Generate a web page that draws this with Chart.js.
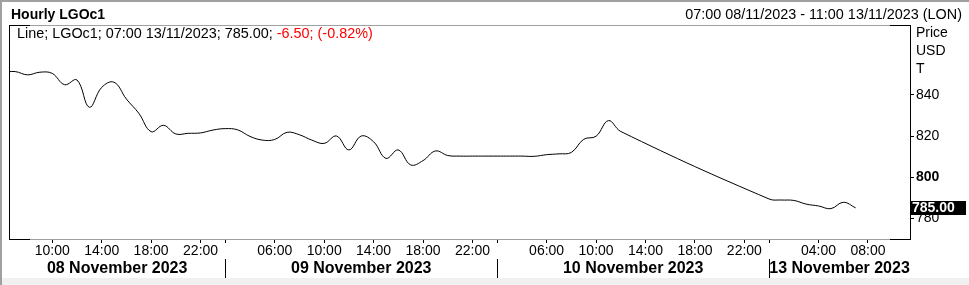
<!DOCTYPE html>
<html>
<head>
<meta charset="utf-8">
<script src="https://cdn.jsdelivr.net/npm/chart.js@4.4.0/dist/chart.umd.min.js"></script>
<style>
  body { margin: 0; background: #fff; }
  canvas { display: block; }
</style>
</head>
<body>
<canvas id="myChart" width="969" height="285"></canvas>
<script>
// trading days and the hourly slots shown for each one
var days = ['08 November 2023', '09 November 2023', '10 November 2023', '13 November 2023'];
var dayFirstHour = [6, 2, 2, 0];
var dayLastHour = [23, 23, 23, 11];
var tickHours = [[10, 14, 18, 22], [6, 10, 14, 18, 22], [6, 10, 14, 18, 22], [4, 8]];

// hourly closes (null = no data, line spans it)
var pricesNov8 = [851.0, 851.4, 849.8, 851.1, 850.5, 845.0, 847.3, 834.0, 843.7, 846.2, 838.0,
                  831.1, 822.1, 825.2, 821.0, 821.3, 821.5, 822.9];
var pricesNov9 = [823.6, 823.0, 819.8, 818.0, 818.3, 821.8, 820.6, 818.0, 816.4, 820.0, 813.2,
                  820.0, 817.2, 809.1, 813.2, 805.9, 808.0, 812.7, 810.5, 810.2, 810.2, 810.2];
var pricesNov10 = [810.2, 810.2, 810.2, 810.1, 810.9, 811.3, 812.0, 818.4, 819.9, 827.5, 822.2,
                   null, null, null, null, null, null, null, null, null, null, null];
var pricesNov13 = [789.3, 788.8, 788.6, 786.8, 785.9, 784.6, 787.7, 785.0];

var yTicks = [780, 800, 820, 840];

var title = 'Hourly LGOc1';
var rangeText = '07:00 08/11/2023 - 11:00 13/11/2023 (LON)';
var infoText = 'Line; LGOc1; 07:00 13/11/2023; ';
var changeText = '-6.50; (-0.82%)';
var axisUnits = ['Price', 'USD', 'T'];

var FONT = '"Liberation Sans", Arial, sans-serif';

// build slot index -> data
var allPrices = [pricesNov8, pricesNov9, pricesNov10, pricesNov13];
var points = [];
var dayStart = [];
var xTicks = [];
var xTickText = {};
var slot = 0;
for (var d = 0; d < days.length; d++) {
  dayStart.push(slot);
  if (d > 0) { xTicks.push(slot); xTickText[slot] = ''; }
  for (var h = dayFirstHour[d]; h <= dayLastHour[d]; h++) {
    var j = h - dayFirstHour[d];
    if (j < allPrices[d].length) points.push({x: slot, y: allPrices[d][j]});
    if (tickHours[d].indexOf(h) >= 0) {
      xTicks.push(slot);
      xTickText[slot] = (h < 10 ? '0' : '') + h + ':00';
    }
    slot++;
  }
}
var lastPrice = pricesNov13[pricesNov13.length - 1];

var overlay = {
  id: 'overlay',
  beforeDraw: function(chart) {
    var ctx = chart.ctx;
    ctx.save();
    ctx.fillStyle = '#fff';
    ctx.fillRect(0, 0, chart.width, chart.height);
    ctx.restore();
  },
  afterDraw: function(chart) {
    var ctx = chart.ctx, a = chart.chartArea, xs = chart.scales.x, ys = chart.scales.y;
    ctx.save();

    // outer border and bottom strip
    ctx.fillStyle = '#f0f0f0';
    ctx.fillRect(0, 278, chart.width, 7);
    ctx.fillStyle = '#a0a0a0';
    ctx.fillRect(0, 0, chart.width, 2);
    ctx.fillRect(0, 0, 2, chart.height);

    // plot frame: grey top/bottom, black sides and corners
    var w = a.right - a.left, h = a.bottom - a.top;
    ctx.fillRect(a.left, a.top, w, 1);
    ctx.fillRect(a.left, a.bottom, w, 1);
    ctx.fillStyle = '#000';
    ctx.fillRect(a.left, a.top, 1, h + 1);
    ctx.fillRect(a.right, a.top, 1, h + 1);
    ctx.fillRect(a.left, a.top, 21, 1);
    ctx.fillRect(a.left, a.bottom, 21, 1);
    ctx.fillRect(a.right - 20, a.top, 21, 1);
    ctx.fillRect(a.right - 20, a.bottom, 21, 1);

    // header texts
    ctx.textBaseline = 'alphabetic';
    ctx.textAlign = 'left';
    ctx.font = 'bold 14px ' + FONT;
    ctx.fillText(title, 11, 19);
    ctx.font = '14.4px ' + FONT;
    ctx.textAlign = 'right';
    ctx.fillText(rangeText, 962, 19);
    ctx.textAlign = 'left';
    var info = infoText + lastPrice.toFixed(2) + '; ';
    ctx.fillText(info, 17, 38);
    ctx.fillStyle = '#ff0000';
    ctx.fillText(changeText, 17 + ctx.measureText(info).width, 38);

    // unit labels on the right axis
    ctx.fillStyle = '#000';
    ctx.font = '14px ' + FONT;
    ctx.textBaseline = 'middle';
    axisUnits.forEach(function(t, i) { ctx.fillText(t, 916, 33 + i * 18); });

    // last value marker
    var yy = Math.round(ys.getPixelForValue(lastPrice));
    ctx.fillRect(a.right + 1, yy - 7, 55, 14);
    ctx.fillStyle = '#fff';
    ctx.font = 'bold 14px ' + FONT;
    ctx.fillText(lastPrice.toFixed(2), a.right + 2, yy + 0.5);

    // day labels and separators
    var bounds = [a.left];
    for (var d = 1; d < days.length; d++) bounds.push(xs.getPixelForValue(dayStart[d]));
    bounds.push(a.right);
    ctx.fillStyle = '#000';
    ctx.font = 'bold 16px ' + FONT;
    ctx.textAlign = 'center';
    for (var d = 0; d < days.length; d++) {
      ctx.fillText(days[d], (bounds[d] + bounds[d + 1]) / 2, 269);
      if (d > 0) ctx.fillRect(Math.round(bounds[d]), 259, 1, 19);
    }
    ctx.restore();
  }
};

var ctx = document.getElementById('myChart').getContext('2d');
var chart = new Chart(ctx, {
  type: 'line',
  data: {
    datasets: [{
      data: points,
      borderColor: '#000',
      borderWidth: 1,
      pointRadius: 0,
      tension: 0.4,
      spanGaps: true
    }]
  },
  plugins: [overlay],
  options: {
    responsive: false,
    animation: false,
    devicePixelRatio: 1,
    layout: { padding: { left: 9, top: 25, right: 0, bottom: 0 } },
    plugins: { legend: { display: false }, tooltip: { enabled: false } },
    scales: {
      x: {
        type: 'linear',
        min: 0.5,
        max: 73.4,
        afterBuildTicks: function(s) { s.ticks = xTicks.map(function(v) { return {value: v}; }); },
        afterFit: function(s) { s.height = 46; },
        border: { display: false },
        grid: { drawOnChartArea: false, tickLength: 4, color: '#000' },
        ticks: {
          autoSkip: false,
          maxRotation: 0,
          padding: 0,
          color: '#000',
          font: { family: FONT, size: 14, lineHeight: 1.1 },
          callback: function(v) { return xTickText[v]; }
        }
      },
      y: {
        position: 'right',
        min: 769.8,
        max: 874.1,
        afterBuildTicks: function(s) { s.ticks = yTicks.map(function(v) { return {value: v}; }); },
        afterFit: function(s) { s.width = 59; },
        border: { display: false },
        grid: { drawOnChartArea: false, tickLength: 4, color: '#000' },
        ticks: {
          padding: 2,
          color: '#000',
          font: function(c) {
            return { family: FONT, size: 14, weight: (c.tick && c.tick.value === 800) ? 'bold' : 'normal' };
          },
          callback: function(v) { return v; }
        }
      }
    }
  }
});
</script>
</body>
</html>
